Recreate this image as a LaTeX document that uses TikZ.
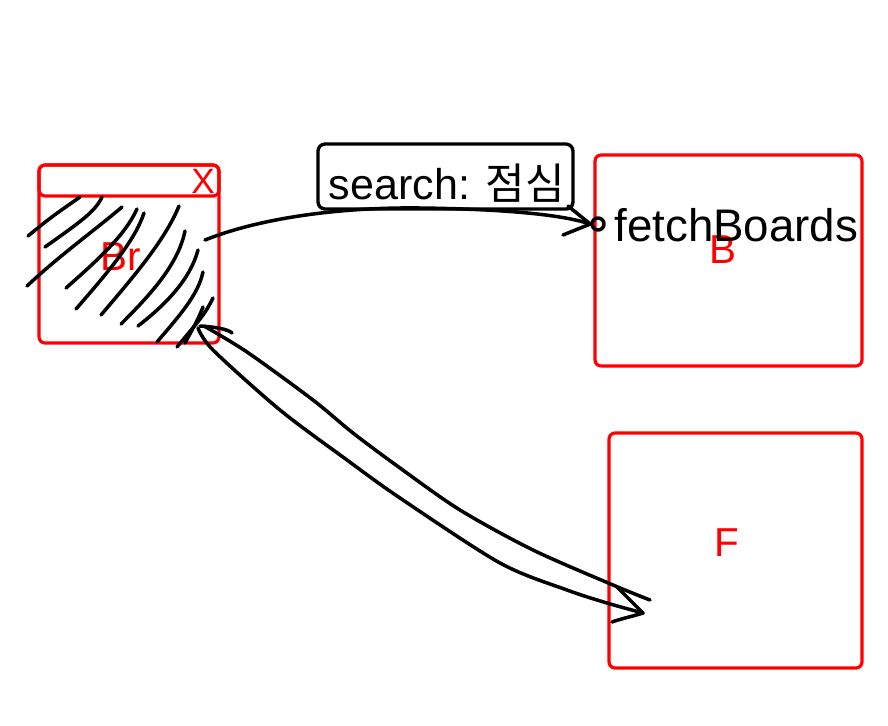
\documentclass[tikz,border=0pt]{standalone}
\usepackage{fontspec}
\setmainfont{Liberation Sans}
\newfontfamily\krfont{Noto Sans CJK KR}
\begin{document}
\begin{tikzpicture}[x=0.02cm,y=-0.02cm,
  redbox/.style={draw=red,line width=1.8pt,rounded corners=0.12cm,inner sep=0pt},
  redtxt/.style={text=red,inner sep=0pt,font=\fontsize{23}{25}\selectfont},
  ink/.style={draw=black,line width=2pt,line cap=round,line join=round},
  lblbox/.style={draw=black,line width=1.9pt,rounded corners=0.14cm,inner sep=0pt},
  blktxt/.style={text=black,inner sep=0pt,font=\fontsize{24.5}{26}\selectfont}]
\useasboundingbox (0,0) rectangle (888,725);
% boxes
\node[redbox,minimum width=3.6cm,minimum height=3.56cm] (Br) at (129,254) {};
\node[redbox,minimum width=3.6cm,minimum height=0.62cm] (bar) at (129,180.5) {};
\node[redbox,minimum width=5.34cm,minimum height=4.22cm] (B) at (728.5,260.5) {};
\node[redbox,minimum width=5.06cm,minimum height=4.7cm] (F) at (735.5,550.5) {};
% red labels
\node[redtxt] (Brl) at (121,257) {Br};
\node[redtxt,font=\fontsize{20}{22}\selectfont] (X) at (203,181) {X};
\node[redtxt] (Bl) at (723,250) {B};
\node[redtxt] (Fl) at (727,543) {F};
% label box
\node[lblbox,minimum width=5.1cm,minimum height=1.3cm] (lab) at (445.5,176.5) {};
\node[blktxt,anchor=base] (labt) at (447,199) {search: {\krfont 점심}};
\node[blktxt,font=\fontsize{26}{28}\selectfont,anchor=base west] (fb) at (614,241) {fetchBoards};
\node[ink,circle,minimum size=0.24cm,inner sep=0pt] (port) at (598,224) {};
% hatching
\draw[ink] (28,236) .. controls (50,218) .. (80,197);
\draw[ink] (45,247) .. controls (80,222) and (95,212) .. (102,197);
\draw[ink] (27,286) .. controls (60,255) and (95,230) .. (122,207);
\draw[ink] (66,288) .. controls (100,258) and (125,235) .. (137,209);
\draw[ink] (76,309) .. controls (110,270) and (135,240) .. (144,213);
\draw[ink] (101,315) .. controls (135,275) and (165,240) .. (179,206);
\draw[ink] (121,324) .. controls (150,295) and (178,265) .. (185,231);
\draw[ink] (138,326) .. controls (165,305) and (190,280) .. (198,250);
\draw[ink] (157,342) .. controls (180,315) and (198,295) .. (203,272);
\draw[ink] (177,347) .. controls (195,325) and (205,315) .. (213,298);
\draw[ink] (185,343) .. controls (192,330) and (198,320) .. (203,307);
% search connector
\coordinate (s0) at (205,240);
\draw[ink] (s0) .. controls (260,218) and (340,207) .. (420,208)
  .. controls (500,209) and (560,214) .. (port.west);
\coordinate (a1) at (563,235);
\coordinate (a2) at (568,206);
\draw[ink] (a1) -- (port.west);
\draw[ink] (a2) -- (port.west);
% double arrow F -> Br
\coordinate (tipBr) at (200,326);
\coordinate (tipF) at (643,613);
\coordinate (barb) at (232,333);
\coordinate (endU) at (650,600);
\coordinate (hk) at (612,622);
\coordinate (hs) at (617,587);
\draw[ink] (tipBr) .. controls (215,327) and (228,329) .. (barb);
\draw[ink] plot[smooth,tension=0.5] coordinates {(204,326) (247,352) (313,400) (353,433) (400,468) (460,510) (533,550) (613,585) (650,600)};
\draw[ink] plot[smooth,tension=0.5] coordinates {(198,328) (213,350) (280,410) (347,460) (400,498) (500,563) (567,590) (607,603) (643,613)};
\draw[ink] (hs) -- (tipF) .. controls (630,617) and (620,619) .. (hk);
\end{tikzpicture}
\end{document}
